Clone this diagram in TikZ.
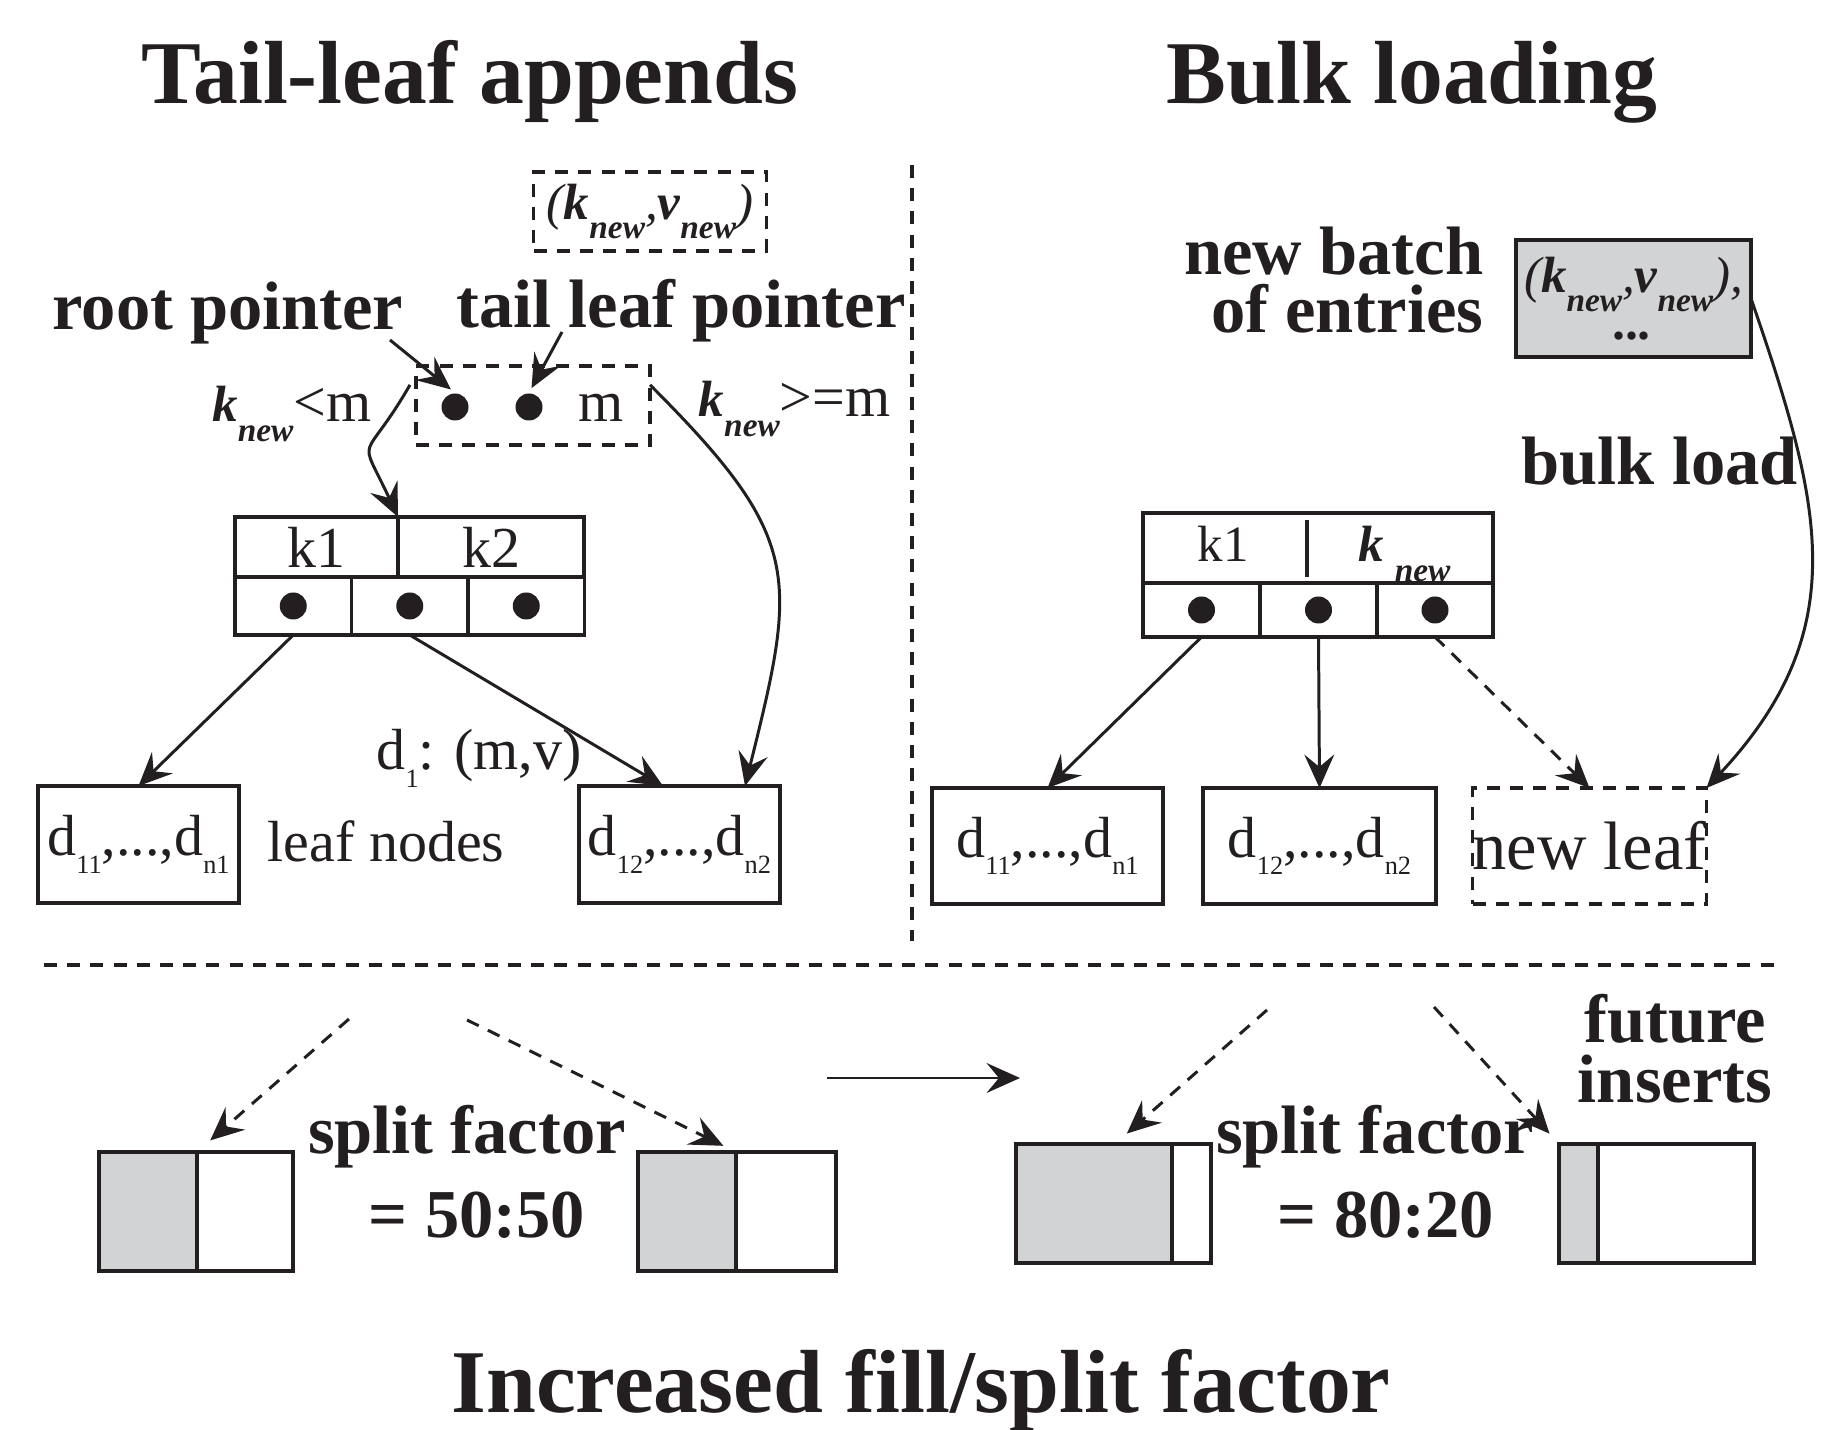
\documentclass[tikz,border=0pt]{standalone}
\usepackage{fontspec}
\setmainfont{Liberation Serif}
\usetikzlibrary{arrows.meta,positioning,calc}

\definecolor{ink}{RGB}{35,31,32}
\definecolor{fillgray}{RGB}{209,211,212}

% subscripts hang well below the baseline
\newcommand{\lowsub}[1]{\raisebox{-5.5pt}{\fontsize{9.5}{10}\selectfont\bfseries\itshape #1}}
\newcommand{\dsub}[1]{\raisebox{-5pt}{\fontsize{7.5}{8}\selectfont #1}}
\newcommand{\knew}{{\fontsize{14.5}{16}\selectfont\bfseries\itshape k\lowsub{new}}}
\newcommand{\vnew}{{\fontsize{14.5}{16}\selectfont\bfseries\itshape v\lowsub{new}}}

\begin{document}
\begin{tikzpicture}[
    color=ink,
    box/.style={draw, line width=1.1pt, inner sep=0pt, outer sep=0pt},
    cell/.style={box, font=\fontsize{16.5}{19}\selectfont},
    dashbox/.style={box, dash pattern=on 3.7pt off 2.9pt},
    dot/.style={circle, fill, inner sep=0pt, minimum size=0.27cm},
    arrow/.style={-{Stealth[length=9.5pt, width=8.5pt, inset=3.5pt]}, line width=0.85pt},
    darrow/.style={arrow, dash pattern=on 3.7pt off 2.9pt},
    sep/.style={line width=1.1pt, dash pattern=on 3.7pt off 2.9pt},
    title/.style={font=\fontsize{25.5}{29}\selectfont\bfseries, anchor=base, inner sep=0pt},
    lbl/.style={font=\fontsize{19.5}{16.5}\selectfont\bfseries, inner sep=0pt},
    txt/.style={font=\fontsize{16.5}{19}\selectfont, inner sep=0pt}
]
    \useasboundingbox (0,0) rectangle (18.45,-14.30);
    \fill[white] (0,0) rectangle (18.45,-14.30);

    % headings
    \node[title] (tailttl) at (4.70,-1.04) {Tail-leaf appends};
    \node[title] (bulkttl) at (14.12,-1.04) {Bulk loading};
    \node[title] (fillttl) at (9.21,-14.12) {Increased fill/split factor};

    % separators
    \draw[sep] (9.12,-1.65) -- (9.12,-9.41);
    \draw[sep] (0.44,-9.65) -- (17.83,-9.65);

    %%% tail-leaf appends
    \node[dashbox, minimum width=2.33cm, minimum height=0.79cm,
          font=\fontsize{14.5}{16}\selectfont\itshape] (kvnew) at (6.50,-2.115) {(\knew,\vnew)};

    \node[lbl, anchor=base] (rootlbl) at (2.28,-3.30) {root pointer};
    \node[lbl, anchor=base] (taillbl) at (6.81,-3.28) {tail leaf pointer};

    \node[dashbox, minimum width=2.34cm, minimum height=0.79cm] (rootbox) at (5.33,-4.055) {};
    \node[dot] (rootdot) at (4.55,-4.07) {};
    \node[dot] (taildot) at (5.29,-4.07) {};
    \node[txt, anchor=base] (mkey) at (6.01,-4.22) {m};

    \coordinate (rootfrom) at (3.90,-3.40);
    \coordinate (tailfrom) at (5.62,-3.32);
    \draw[arrow, shorten >=1.5pt] (rootfrom) -- (rootdot.north);
    \draw[arrow, shorten >=1.5pt] (tailfrom) -- (taildot.north);

    \node[txt, anchor=base east] (ltlbl) at (3.72,-4.22) {\knew<m};
    \node[txt, anchor=base west] (gelbl) at (6.98,-4.17) {\knew>=m};

    % inner node: keys on top, pointers below
    \node[cell, anchor=north west, minimum width=1.63cm, minimum height=0.60cm] (lkA) at (2.35,-5.17) {k1};
    \node[cell, right=0pt of lkA, minimum width=1.86cm, minimum height=0.60cm] (lkB) {k2};
    \node[cell, anchor=north west, minimum width=1.165cm, minimum height=0.58cm] (lpA) at (lkA.south west) {};
    \node[cell, right=0pt of lpA, minimum width=1.165cm, minimum height=0.58cm] (lpB) {};
    \node[cell, right=0pt of lpB, minimum width=1.165cm, minimum height=0.58cm] (lpC) {};
    \foreach \c in {A,B,C}
        \node[dot] (ld\c) at (lp\c) {};

    % leaves
    \node[cell, minimum width=2.01cm, minimum height=1.17cm] (lleafA) at (1.385,-8.445) {d\dsub{11},...,d\dsub{n1}};
    \node[cell, minimum width=2.01cm, minimum height=1.17cm] (lleafB) at (6.795,-8.445) {d\dsub{12},...,d\dsub{n2}};
    \node[txt, anchor=base west] (dlbl) at (3.76,-7.70) {d\dsub{1}: (m,v)};
    \node[txt, anchor=base west] (leaflbl) at (2.67,-8.62) {leaf nodes};

    \draw[arrow] ([xshift=-0.06cm]rootbox.170) to[out=240, in=115, looseness=1.85] (lkA.north east);
    \draw[arrow] (rootbox.10) to[out=-45, in=76, looseness=1.35] ([xshift=0.655cm]lleafB.north);
    \draw[arrow] (ldA |- lpA.south) -- (lleafA.north);
    \draw[arrow] (ldB |- lpB.south) -- ([xshift=-0.165cm]lleafB.north);

    %%% bulk loading
    \node[lbl, anchor=east, align=right] (batchlbl) at (14.84,-2.80) {new batch\\of entries};
    \node[box, fill=fillgray, minimum width=2.35cm, minimum height=1.17cm, align=center,
          font=\fontsize{14.5}{9.4}\selectfont\itshape] (batch) at (16.335,-2.985) {(\knew,\vnew),\\[4pt]\textbf{...}};
    \node[lbl, anchor=base west] (bulklbl) at (15.21,-4.85) {bulk load};

    \node[box, anchor=north west, minimum width=3.50cm, minimum height=0.70cm] (rtop) at (11.43,-5.13) {};
    \node[txt, anchor=base, font=\fontsize{14.5}{16}\selectfont] (rkA) at (12.23,-5.62) {k1};
    \node[txt, anchor=base west] (rkB) at (13.58,-5.62)
        {{\fontsize{14.5}{16}\selectfont\bfseries\itshape k}\hspace{3pt}\lowsub{new}};
    \draw[line width=1.1pt] ($(rtop.north west)+(1.64,-0.07)$) -- ($(rtop.south west)+(1.64,0.06)$);
    \node[cell, anchor=north west, minimum width=1.17cm, minimum height=0.54cm] (rpA) at (rtop.south west) {};
    \node[cell, right=0pt of rpA, minimum width=1.17cm, minimum height=0.54cm] (rpB) {};
    \node[cell, right=0pt of rpB, minimum width=1.16cm, minimum height=0.54cm] (rpC) {};
    \foreach \c in {A,B,C}
        \node[dot] (rd\c) at (rp\c) {};

    \node[cell, minimum width=2.31cm, minimum height=1.16cm] (rleafA) at (10.475,-8.46) {d\dsub{11},...,d\dsub{n1}};
    \node[cell, minimum width=2.33cm, minimum height=1.16cm] (rleafB) at (13.195,-8.46) {d\dsub{12},...,d\dsub{n2}};
    \node[dashbox, minimum width=2.33cm, minimum height=1.16cm,
          font=\fontsize{19.5}{22}\selectfont] (newleaf) at (15.895,-8.46) {new leaf};

    \draw[arrow] (rdA |- rpA.south) -- (rleafA.north);
    \draw[arrow] (rdB |- rpB.south) -- (rleafB.north);
    \draw[darrow] (rdC |- rpC.south) -- (newleaf.north);
    \draw[arrow] (batch.east) to[out=-71, in=47, looseness=1.13] (newleaf.north east);

    %%% split factor
    \node[box, fill=fillgray, anchor=north west, minimum width=0.98cm, minimum height=1.19cm] (sfAl) at (0.99,-11.52) {};
    \node[box, right=0pt of sfAl, minimum width=0.96cm, minimum height=1.19cm] (sfAr) {};
    \node[box, fill=fillgray, anchor=north west, minimum width=0.98cm, minimum height=1.19cm] (sfBl) at (6.38,-11.52) {};
    \node[box, right=0pt of sfBl, minimum width=1.00cm, minimum height=1.19cm] (sfBr) {};
    \node[box, fill=fillgray, anchor=north west, minimum width=1.56cm, minimum height=1.19cm] (sfCl) at (10.16,-11.44) {};
    \node[box, right=0pt of sfCl, minimum width=0.39cm, minimum height=1.19cm] (sfCr) {};
    \node[box, fill=fillgray, anchor=north west, minimum width=0.39cm, minimum height=1.19cm] (sfDl) at (15.59,-11.44) {};
    \node[box, right=0pt of sfDl, minimum width=1.56cm, minimum height=1.19cm] (sfDr) {};

    \node[lbl, anchor=base] (sfAtxt) at (4.67,-11.53) {split factor};
    \node[lbl, anchor=base] (sfAval) at (4.77,-12.37) {= 50:50};
    \node[lbl, anchor=base] (sfCtxt) at (13.75,-11.53) {split factor};
    \node[lbl, anchor=base] (sfCval) at (13.86,-12.37) {= 80:20};
    \node[lbl, align=center, font=\fontsize{19.5}{17}\selectfont\bfseries] (futlbl) at (16.75,-10.485) {future\\inserts};

    \coordinate (sAfrom) at (3.49,-10.19);
    \coordinate (sBfrom) at (4.67,-10.20);
    \coordinate (sCfrom) at (12.67,-10.10);
    \coordinate (sDfrom) at (14.34,-10.07);
    \draw[darrow, shorten >=5pt] (sAfrom) -- (sfAl.north east);
    \draw[darrow, shorten >=4pt] (sBfrom) -- (sfBl.north east);
    \draw[darrow, shorten >=4.5pt] (sCfrom) -- ([xshift=0.21cm]sfCl.north);
    \draw[darrow, shorten >=4pt] (sDfrom) -- (sfDl.north west);

    \coordinate (moveL) at (8.27,-10.78);
    \coordinate (moveR) at (10.20,-10.78);
    \draw[arrow] (moveL) -- (moveR);
\end{tikzpicture}
\end{document}
